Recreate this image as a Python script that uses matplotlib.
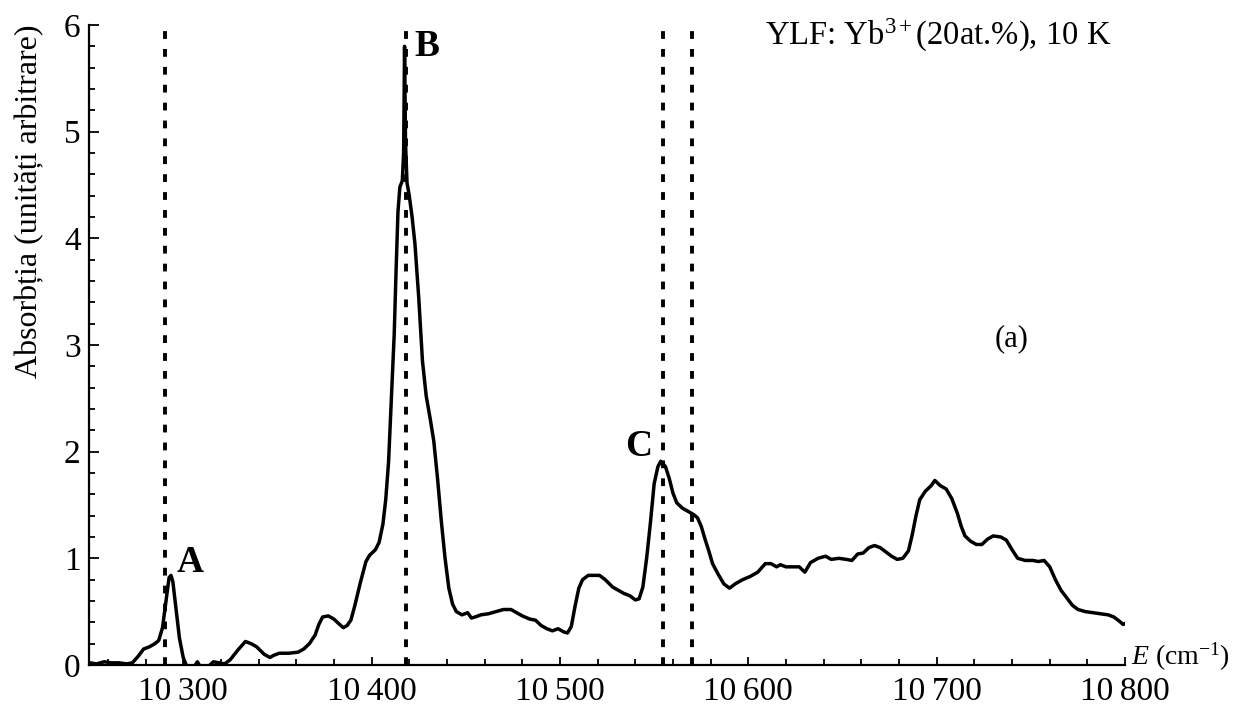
"""
Absorption spectrum of YLF:Yb3+ (20 at.%) at 10 K, with the A, B, C lines marked.
"""

import numpy as np
import matplotlib
matplotlib.use('Agg')
import matplotlib.pyplot as plt
from matplotlib.ticker import FixedLocator, MultipleLocator, FuncFormatter

plt.rcParams['font.family'] = ['Liberation Serif', 'DejaVu Serif']
plt.rcParams['mathtext.fontset'] = 'custom'
plt.rcParams['mathtext.rm'] = 'Liberation Serif'
plt.rcParams['mathtext.it'] = 'Liberation Serif:italic'
plt.rcParams['mathtext.bf'] = 'Liberation Serif:bold'

# Measured spectrum (energy in cm^-1, absorption in arbitrary units)
energy = [
    10250.5, 10254, 10258, 10262, 10266, 10270, 10273, 10276, 10279, 10282,
    10285, 10287, 10289, 10291, 10292.5, 10293.5, 10294.5, 10296, 10298, 10300,
    10302, 10305, 10307.5, 10309.5, 10313, 10316, 10319, 10322, 10325, 10329,
    10333, 10336, 10339, 10343, 10346, 10348, 10351, 10356, 10361, 10364,
    10367, 10370, 10372, 10374, 10377, 10380, 10383, 10385, 10387, 10389,
    10391, 10394, 10397, 10399, 10402, 10404, 10406, 10407.5, 10409, 10410,
    10411, 10412, 10413, 10414, 10415, 10416.3, 10417, 10417.5, 10418, 10418.8,
    10420, 10421.5, 10423, 10425, 10427, 10429, 10431, 10433, 10435, 10437,
    10439, 10441, 10443, 10445, 10448, 10451, 10453, 10455, 10458, 10462,
    10466, 10470, 10474, 10477, 10480, 10484, 10487, 10490, 10493, 10496,
    10499, 10502, 10504, 10506, 10508, 10510, 10512, 10515, 10518, 10521,
    10524, 10528, 10531, 10534, 10537, 10540, 10542, 10544, 10546, 10548,
    10550, 10552, 10553.5, 10556, 10558, 10560, 10562, 10565, 10568, 10571,
    10573, 10575, 10577, 10579, 10581, 10584, 10587, 10590, 10593, 10597,
    10601, 10605, 10609, 10612, 10615, 10617, 10620, 10624, 10627, 10630,
    10633, 10637, 10641, 10644, 10648, 10652, 10655, 10658, 10661, 10664,
    10667, 10670, 10673, 10676, 10679, 10682, 10685, 10687, 10689, 10691,
    10694, 10697, 10699, 10702, 10705, 10708, 10711, 10713, 10715, 10718,
    10721, 10724, 10727, 10730, 10734, 10737, 10740, 10743, 10747, 10751,
    10754, 10757, 10760, 10763, 10766, 10769, 10772, 10775, 10779, 10783,
    10787, 10791, 10794, 10797, 10799, 10800,
]
absorption = [
    0.02, 0.01, 0.03, 0.02, 0.02, 0.01, 0.02, 0.08, 0.15, 0.17,
    0.20, 0.23, 0.35, 0.62, 0.82, 0.84, 0.78, 0.55, 0.25, 0.07,
    -0.02, -0.04, 0.03, -0.03, -0.02, 0.03, 0.02, 0.01, 0.05, 0.14,
    0.22, 0.20, 0.17, 0.10, 0.07, 0.09, 0.11, 0.11, 0.12, 0.15,
    0.20, 0.28, 0.38, 0.45, 0.46, 0.43, 0.38, 0.35, 0.37, 0.42,
    0.55, 0.77, 0.97, 1.03, 1.08, 1.15, 1.32, 1.55, 1.90, 2.30,
    2.70, 3.10, 3.70, 4.25, 4.48, 4.54, 4.80, 5.80, 4.90, 4.52,
    4.40, 4.20, 3.95, 3.45, 2.85, 2.52, 2.32, 2.10, 1.75, 1.35,
    1.00, 0.72, 0.57, 0.50, 0.47, 0.49, 0.44, 0.45, 0.47, 0.48,
    0.50, 0.52, 0.52, 0.49, 0.46, 0.43, 0.42, 0.37, 0.34, 0.32,
    0.34, 0.31, 0.30, 0.36, 0.55, 0.72, 0.80, 0.84, 0.84, 0.84,
    0.80, 0.73, 0.70, 0.67, 0.65, 0.61, 0.62, 0.73, 1.00, 1.33,
    1.70, 1.86, 1.91, 1.86, 1.75, 1.61, 1.52, 1.47, 1.44, 1.41,
    1.38, 1.30, 1.18, 1.07, 0.95, 0.85, 0.76, 0.72, 0.76, 0.80,
    0.83, 0.87, 0.95, 0.95, 0.92, 0.94, 0.92, 0.92, 0.92, 0.87,
    0.96, 1.00, 1.02, 0.99, 1.00, 0.99, 0.98, 1.04, 1.05, 1.10,
    1.12, 1.10, 1.06, 1.02, 0.99, 1.00, 1.07, 1.22, 1.40, 1.55,
    1.63, 1.68, 1.73, 1.68, 1.65, 1.56, 1.42, 1.30, 1.21, 1.16,
    1.13, 1.13, 1.18, 1.21, 1.20, 1.17, 1.08, 1.00, 0.98, 0.98,
    0.97, 0.98, 0.92, 0.80, 0.70, 0.63, 0.56, 0.52, 0.50, 0.49,
    0.48, 0.47, 0.45, 0.41, 0.38, 0.39,
]

# Positions of the marked transitions (dotted guides)
line_positions = [10290.5, 10418, 10554.5, 10570]
peak_names = ['A', 'B', 'C']
peak_label_xy = [(10296.5, 0.80), (10423, 5.63), (10549, 1.88)]

x_major = [10300, 10400, 10500, 10600, 10700, 10800]

fig = plt.figure(figsize=(12.35, 7.09), dpi=100)
ax = fig.add_axes([0.0721, 0.0621, 0.8389, 0.9026])

ax.plot(energy, absorption, color='black', lw=2.5, zorder=3)
for xv in line_positions:
    ax.axvline(xv, color='black', lw=2.8, linestyle=(0, (2.0, 2.6)), zorder=2)

ax.set_xlim(10250, 10800)
ax.set_ylim(0, 6)

for side in ['top', 'right']:
    ax.spines[side].set_visible(False)
for side in ['left', 'bottom']:
    ax.spines[side].set_linewidth(1.6)

ax.xaxis.set_major_locator(FixedLocator(x_major))
ax.xaxis.set_minor_locator(MultipleLocator(20))
ax.xaxis.set_major_formatter(FuncFormatter(
    lambda v, pos: f'{int(v) // 1000}\u2009{int(v) % 1000:03d}'))
ax.yaxis.set_major_locator(MultipleLocator(1))
ax.yaxis.set_minor_locator(MultipleLocator(0.2))

ax.tick_params(axis='both', which='both', direction='in', width=1.3,
               labelsize=24, colors='black')
ax.tick_params(axis='x', which='major', length=6, pad=8)
ax.tick_params(axis='x', which='minor', length=4)
ax.tick_params(axis='y', which='major', length=7, pad=6)
ax.tick_params(axis='y', which='minor', length=4.5)

for name, (xv, yv) in zip(peak_names, peak_label_xy):
    ha = 'right' if name == 'C' else 'left'
    ax.text(xv, yv, name, fontsize=27, fontweight='bold', ha=ha, va='bottom')

ax.text(0.6525, 0.969, 'YLF: Yb$^{3+}$(20at.%), 10 K', transform=ax.transAxes,
        fontsize=23.5, ha='left', va='baseline')
ax.text(0.89, 0.51, '(a)', transform=ax.transAxes, fontsize=22,
        ha='center', va='center')
ax.text(1.006, 0.012, '$E$ (cm$^{\\mathregular{-1}}$)', transform=ax.transAxes,
        fontsize=20, ha='left', va='center')

fig.text(0.024, 1 - 201 / 709, 'Absorbția (unități arbitrare)', rotation=90,
         fontsize=23, ha='center', va='center')

fig.savefig('out.png', dpi=100)
